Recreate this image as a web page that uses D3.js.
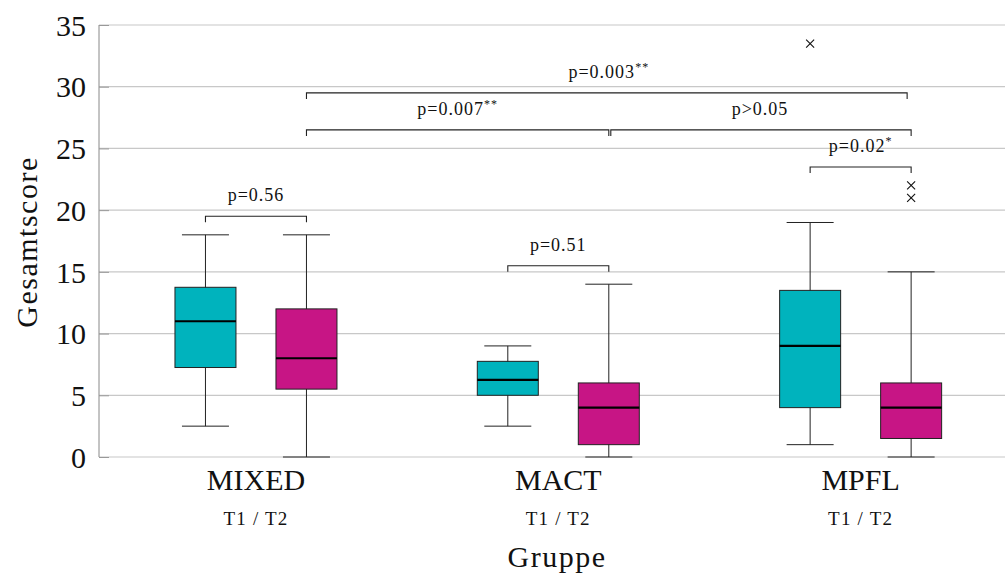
<!DOCTYPE html>
<html>
<head>
<meta charset="utf-8">
<script src="https://cdn.jsdelivr.net/npm/d3@7"></script>
<style>
  body { margin: 0; background: #fff; }
  svg text { font-family: "Liberation Serif", "DejaVu Serif", serif; fill: #111; }
</style>
</head>
<body>
<svg id="chart" width="1005" height="575"></svg>
<script>
// groups and time points
var groups = ["MIXED", "MACT", "MPFL"];
var times = ["T1", "T2"];
var timeColors = ["#00b3bd", "#c71585"];

// box stats per group, [T1, T2]
var lowWhisker  = [[2.5, 0], [2.5, 0], [1, 0]];
var q1          = [[7.25, 5.5], [5, 1], [4, 1.5]];
var median      = [[11, 8], [6.25, 4], [9, 4]];
var q3          = [[13.75, 12], [7.75, 6], [13.5, 6]];
var highWhisker = [[18, 18], [9, 14], [19, 15]];
var outliers    = [[[], []], [[], []], [[33.5], [22, 21]]];

var yTicks = [0, 5, 10, 15, 20, 25, 30, 35];

// significance brackets
var bracketFrom  = [["MIXED", "T1"], ["MACT", "T1"], ["MPFL", "T1"], ["MIXED", "T2"], ["MACT", "T2"], ["MIXED", "T2"]];
var bracketTo    = [["MIXED", "T2"], ["MACT", "T2"], ["MPFL", "T2"], ["MACT", "T2"], ["MPFL", "T2"], ["MPFL", "T2"]];
var bracketLevel = [19.5, 15.5, 23.5, 26.5, 26.5, 29.5];
var bracketText  = ["p=0.56", "p=0.51", "p=0.02", "p=0.007", "p>0.05", "p=0.003"];
var bracketStars = ["", "", "*", "**", "", "**"];

var svg = d3.select("#chart");
var pLeft = 99, pRight = 1005, pTop = 25, pBottom = 457;

var y = d3.scaleLinear().domain([0, 35]).range([pBottom, pTop]);
var x = d3.scaleBand().domain(groups).range([104.8, 1011.8]);
var sub = d3.scalePoint().domain(times).range([-50.5, 50.5]);
function cx(g, t) { return x(g) + x.bandwidth() / 2 + sub(t); }

// grid
svg.append("g").selectAll("line")
  .data(yTicks).enter().append("line")
  .attr("x1", pLeft).attr("x2", pRight)
  .attr("y1", function (d) { return y(d); })
  .attr("y2", function (d) { return y(d); })
  .attr("stroke", "#c8c8c8").attr("stroke-width", 1.2);

// left axis, ticks pointing inward
var yAxis = d3.axisLeft(y).tickValues(yTicks).tickSize(0).tickPadding(13);
var ga = svg.append("g").attr("transform", "translate(" + pLeft + ",0)").call(yAxis);
ga.select(".domain").attr("stroke", "#888").attr("d", "M0," + pBottom + "V" + pTop);
ga.selectAll(".tick line").attr("stroke", "#999").attr("x2", 10);
ga.selectAll(".tick text").style("font-size", "30px").attr("dy", "0.34em");

// boxes
var boxW = 61, capW = 47;
var rows = [];
groups.forEach(function (g, i) {
  times.forEach(function (t, j) {
    rows.push({ g: g, t: t, j: j, lo: lowWhisker[i][j], q1: q1[i][j], med: median[i][j],
      q3: q3[i][j], hi: highWhisker[i][j], out: outliers[i][j] });
  });
});

var box = svg.append("g").selectAll("g").data(rows).enter().append("g");
box.append("line")
  .attr("x1", function (d) { return cx(d.g, d.t); })
  .attr("x2", function (d) { return cx(d.g, d.t); })
  .attr("y1", function (d) { return y(d.lo); })
  .attr("y2", function (d) { return y(d.hi); })
  .attr("stroke", "#222").attr("stroke-width", 1);
box.selectAll(".cap").data(function (d) { return [d.lo, d.hi].map(function (v) { return { v: v, d: d }; }); })
  .enter().append("line").attr("class", "cap")
  .attr("x1", function (e) { return cx(e.d.g, e.d.t) - capW / 2; })
  .attr("x2", function (e) { return cx(e.d.g, e.d.t) + capW / 2; })
  .attr("y1", function (e) { return y(e.v); })
  .attr("y2", function (e) { return y(e.v); })
  .attr("stroke", "#222").attr("stroke-width", 1);
box.append("rect")
  .attr("x", function (d) { return cx(d.g, d.t) - boxW / 2; })
  .attr("width", boxW)
  .attr("y", function (d) { return y(d.q3); })
  .attr("height", function (d) { return y(d.q1) - y(d.q3); })
  .attr("fill", function (d) { return timeColors[d.j]; })
  .attr("stroke", "#222").attr("stroke-width", 1);
box.append("line")
  .attr("x1", function (d) { return cx(d.g, d.t) - boxW / 2; })
  .attr("x2", function (d) { return cx(d.g, d.t) + boxW / 2; })
  .attr("y1", function (d) { return y(d.med); })
  .attr("y2", function (d) { return y(d.med); })
  .attr("stroke", "#000").attr("stroke-width", 2.2);
box.selectAll(".out").data(function (d) { return d.out.map(function (v) { return { v: v, d: d }; }); })
  .enter().append("path").attr("class", "out")
  .attr("transform", function (e) { return "translate(" + cx(e.d.g, e.d.t) + "," + y(e.v) + ")"; })
  .attr("d", "M-4,-4L4,4M-4,4L4,-4")
  .attr("stroke", "#111").attr("stroke-width", 1.1);

// brackets
var br = svg.append("g").selectAll("g").data(bracketText).enter().append("g");
br.append("path")
  .attr("d", function (d, i) {
    var x1 = cx(bracketFrom[i][0], bracketFrom[i][1]);
    var x2 = cx(bracketTo[i][0], bracketTo[i][1]);
    if (i == 4) x1 += 2;
    if (i == 5) x2 -= 4;
    var yy = y(bracketLevel[i]);
    return "M" + x1 + "," + (yy + 6) + "V" + yy + "H" + x2 + "V" + (yy + 6);
  })
  .attr("fill", "none").attr("stroke", "#222").attr("stroke-width", 1.1);
var bt = br.append("text")
  .attr("x", function (d, i) {
    return (cx(bracketFrom[i][0], bracketFrom[i][1]) + cx(bracketTo[i][0], bracketTo[i][1])) / 2;
  })
  .attr("y", function (d, i) { return y(bracketLevel[i]) - 15; })
  .attr("text-anchor", "middle")
  .style("font-size", "18px").style("letter-spacing", "1px");
bt.append("tspan").text(function (d) { return d; });
bt.append("tspan").attr("dy", -7).style("font-size", "12px")
  .text(function (d, i) { return bracketStars[i]; });

// category labels
var cat = svg.append("g").selectAll("g").data(groups).enter().append("g");
cat.append("text")
  .attr("x", function (d) { return x(d) + x.bandwidth() / 2; })
  .attr("y", 490).attr("text-anchor", "middle")
  .style("font-size", "30px")
  .text(function (d) { return d; });
cat.append("text")
  .attr("x", function (d) { return x(d) + x.bandwidth() / 2; })
  .attr("y", 525).attr("text-anchor", "middle")
  .style("font-size", "19px").style("letter-spacing", "1.2px")
  .text(times.join(" / "));

// axis titles
svg.append("text")
  .attr("x", 557).attr("y", 567).attr("text-anchor", "middle")
  .style("font-size", "30px").style("letter-spacing", "1.5px")
  .text("Gruppe");
svg.append("text")
  .attr("transform", "translate(37,242) rotate(-90)")
  .attr("text-anchor", "middle")
  .style("font-size", "30px").style("letter-spacing", "1.5px")
  .text("Gesamtscore");
</script>
</body>
</html>
